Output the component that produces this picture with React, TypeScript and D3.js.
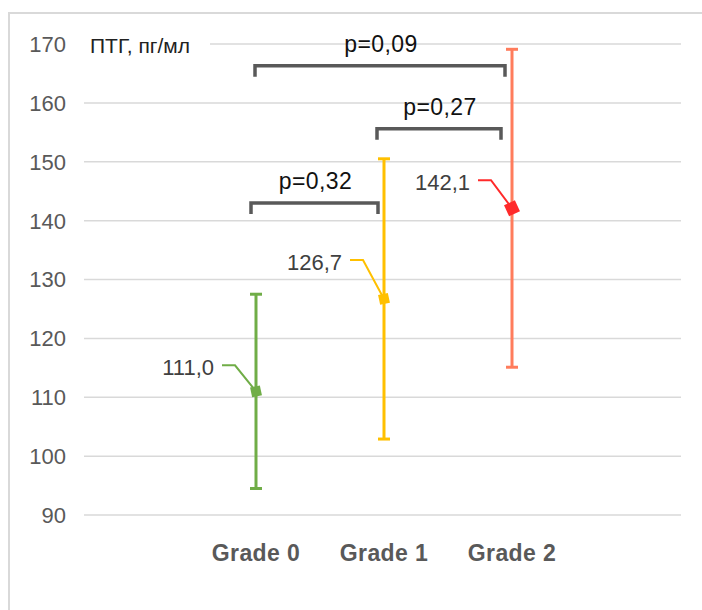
import { useEffect, useRef } from "react"
import * as d3 from "d3"

const categories = ["Grade 0", "Grade 1", "Grade 2"]
const means = [111.0, 126.7, 142.1]
const upper = [127.5, 150.5, 169.1]
const lower = [94.5, 102.9, 115.1]
const meanLabels = ["111,0", "126,7", "142,1"]
const yTicks = [90, 100, 110, 120, 130, 140, 150, 160, 170]
const barColors = ["#70ad47", "#ffc000", "#ff7c5c"]
const markerColors = ["#70ad47", "#ffc000", "#ff2a2a"]

// comparisons: from index, to index, bracket level (value), label
const pFrom = [0, 1, 0]
const pTo = [1, 2, 2]
const pLevel = [143.0, 155.6, 166.3]
const pLabels = ["p=0,32", "p=0,27", "p=0,09"]

export default function App() {
  const ref = useRef<SVGSVGElement>(null)

  useEffect(() => {
    const svg = d3.select(ref.current)
    svg.selectAll("*").remove()

    const W = 702, H = 610
    const font = "'Liberation Sans', Arial, sans-serif"

    const y = d3.scaleLinear().domain([90, 170]).range([515, 44])
    const x = d3.scalePoint<string>().domain(categories).range([256, 512])

    // label placement tweaks (pixels)
    const labelDy = [26, 39, 28]
    const bracketL = [-5, -7, -1]
    const bracketR = [-6, -11, -7]

    // outer border
    svg.append("path")
      .attr("d", `M9,${H} L9,13 L${W},13`)
      .attr("fill", "none")
      .attr("stroke", "#d9d9d9")
      .attr("stroke-width", 2)

    // grid
    svg.append("g").selectAll("line")
      .data(yTicks)
      .join("line")
      .attr("x1", 84).attr("x2", 681)
      .attr("y1", d => y(d)).attr("y2", d => y(d))
      .attr("stroke", "#d9d9d9")
      .attr("stroke-width", 1.5)

    svg.append("g").selectAll("text")
      .data(yTicks)
      .join("text")
      .attr("x", 66)
      .attr("y", d => y(d))
      .attr("dy", "0.36em")
      .attr("text-anchor", "end")
      .style("font-family", font)
      .style("font-size", "22px")
      .style("fill", "#595959")
      .text(d => d)

    // axis title with white background
    svg.append("rect")
      .attr("x", 84).attr("y", 30).attr("width", 126).attr("height", 28)
      .attr("fill", "#fff")
    svg.append("text")
      .attr("x", 90).attr("y", y(170) + 1)
      .attr("dy", "0.36em")
      .style("font-family", font)
      .style("font-size", "21px")
      .style("fill", "#222")
      .text("ПТГ, пг/мл")

    // category labels
    svg.append("g").selectAll("text")
      .data(categories)
      .join("text")
      .attr("x", d => x(d)!)
      .attr("y", 553)
      .attr("dy", "0.36em")
      .attr("text-anchor", "middle")
      .style("font-family", font)
      .style("font-size", "23px")
      .style("letter-spacing", "0.4px")
      .style("font-weight", "bold")
      .style("fill", "#595959")
      .text(d => d)

    // error bars
    const g = svg.append("g")
    categories.forEach((c, i) => {
      const cx = x(c)!
      g.append("line")
        .attr("x1", cx).attr("x2", cx)
        .attr("y1", y(upper[i])).attr("y2", y(lower[i]))
        .attr("stroke", barColors[i]).attr("stroke-width", 3)
      ;[upper[i], lower[i]].forEach(v => {
        g.append("line")
          .attr("x1", cx - 6).attr("x2", cx + 6)
          .attr("y1", y(v)).attr("y2", y(v))
          .attr("stroke", barColors[i]).attr("stroke-width", 3)
      })

      // leader line + label
      const ly = y(means[i]) - labelDy[i]
      const lx = cx - 34
      g.append("path")
        .attr("d", `M${lx},${ly} L${lx + 13},${ly} L${cx},${y(means[i])}`)
        .attr("fill", "none")
        .attr("stroke", markerColors[i]).attr("stroke-width", 2)
      g.append("text")
        .attr("x", lx - 8).attr("y", ly + 2)
        .attr("dy", "0.36em")
        .attr("text-anchor", "end")
        .style("font-family", font)
        .style("font-size", "22px")
        .style("fill", "#404040")
        .text(meanLabels[i])

      // marker
      const s = i === 2 ? 12 : 10
      g.append("rect")
        .attr("x", -s / 2).attr("y", -s / 2).attr("width", s).attr("height", s)
        .attr("transform", `translate(${cx},${y(means[i])}) rotate(${i === 2 ? -25 : -12})`)
        .attr("fill", markerColors[i])
    })

    // significance brackets
    const b = svg.append("g")
    pLabels.forEach((t, i) => {
      const x1 = x(categories[pFrom[i]])! + bracketL[i]
      const x2 = x(categories[pTo[i]])! + bracketR[i]
      const by = y(pLevel[i])
      b.append("path")
        .attr("d", `M${x1},${by + 11} L${x1},${by} L${x2},${by} L${x2},${by + 11}`)
        .attr("fill", "none")
        .attr("stroke", "#595959")
        .attr("stroke-width", 3.5)
      b.append("text")
        .attr("x", (x1 + x2) / 2 + 1)
        .attr("y", by - 22)
        .attr("dy", "0.36em")
        .attr("text-anchor", "middle")
        .style("font-family", font)
        .style("font-size", "23px")
        .style("letter-spacing", "0.4px")
        .style("fill", "#111")
        .text(t)
    })
  }, [])

  return (
    <svg ref={ref} width={702} height={610}
      style={{ position: "absolute", left: 0, top: 0, background: "#fff" }} />
  )
}
